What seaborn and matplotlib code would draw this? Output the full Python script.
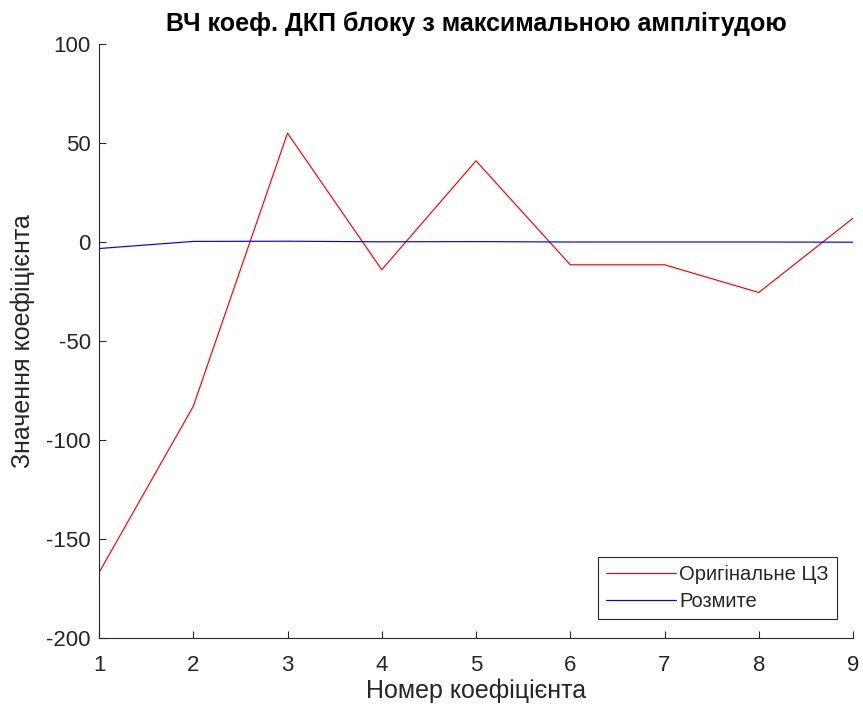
import matplotlib
matplotlib.use("Agg")
import matplotlib.pyplot as plt
import numpy as np
import pandas as pd
import seaborn as sns

# DCT high-frequency coefficients of the block with maximum amplitude
coef_index = [1, 2, 3, 4, 5, 6, 7, 8, 9]
original_vals = [-167, -83, 55, -14, 41, -11.5, -11.5, -25.5, 12]
blurred_vals = [-3.3, 0.3, 0.4, 0.1, 0.2, 0.0, 0.0, 0.0, -0.1]

series_names = ["Оригінальне ЦЗ", "Розмите"]
series_colors = ["#ff0000", "#0000ff"]

title_text = "ВЧ коеф. ДКП блоку з максимальною амплітудою"
xlabel_text = "Номер коефіцієнта"
ylabel_text = "Значення коефіцієнта"
y_ticks = [-200, -150, -100, -50, 0, 50, 100]

df = pd.DataFrame({
    "x": coef_index * 2,
    "y": original_vals + blurred_vals,
    "series": [series_names[0]] * len(coef_index) + [series_names[1]] * len(coef_index),
})

sns.set_style("ticks")
plt.rcParams["font.family"] = ["Liberation Sans", "DejaVu Sans"]
plt.rcParams["axes.unicode_minus"] = False

fig = plt.figure(figsize=(8.63, 7.09), dpi=100)
ax = fig.add_axes([99 / 863, 1 - 638 / 709, (853 - 99) / 863, (638 - 44) / 709])

sns.lineplot(data=df, x="x", y="y", hue="series", hue_order=series_names,
             palette=dict(zip(series_names, series_colors)), linewidth=0.85,
             ax=ax, legend=True)

ax.set_xlim(1, 9)
ax.set_ylim(-200, 100)
ax.set_xticks(coef_index)
ax.set_yticks(y_ticks)

axis_gray = "#262626"
for side in ["top", "right"]:
    ax.spines[side].set_visible(False)
for side in ["left", "bottom"]:
    ax.spines[side].set_color(axis_gray)
    ax.spines[side].set_linewidth(0.8)
ax.tick_params(direction="in", length=5, width=0.8, colors=axis_gray,
               labelsize=16, labelcolor=axis_gray)
ax.tick_params(axis="x", pad=12)
ax.tick_params(axis="y", pad=6)

ax.set_xlabel(xlabel_text, fontsize=18, color=axis_gray, labelpad=2)
ax.set_ylabel(ylabel_text, fontsize=18, color=axis_gray, labelpad=8)
ax.set_title(title_text, fontsize=18, fontweight="bold", color="black", pad=9)

leg = ax.legend(loc="lower right", bbox_to_anchor=(837 / 863, 90 / 709),
                bbox_transform=fig.transFigure, fontsize=14.5,
                frameon=True, fancybox=False, framealpha=1, edgecolor=axis_gray,
                handlelength=3.5, handletextpad=0.15, borderpad=0.4,
                labelspacing=0.4, borderaxespad=0)
leg.get_frame().set_linewidth(0.8)

fig.savefig("out.png", dpi=100)
